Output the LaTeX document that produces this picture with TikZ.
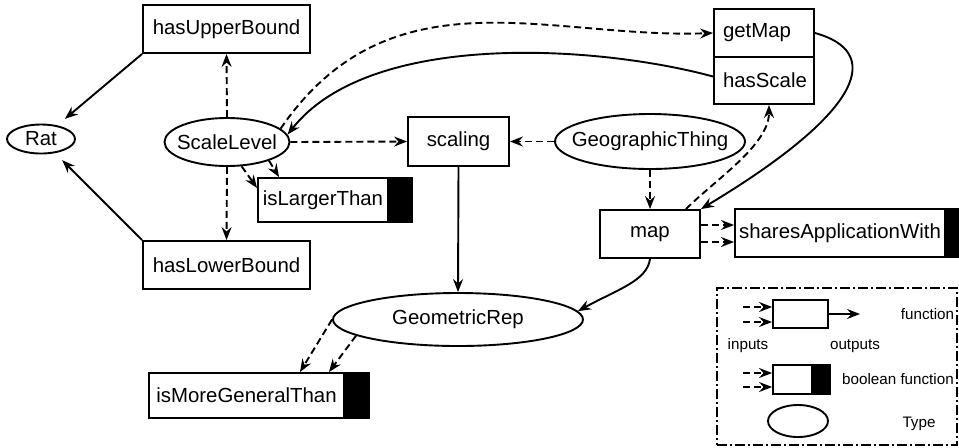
\documentclass[tikz,border=0pt]{standalone}
\usepackage{fontspec}
\setmainfont{Liberation Sans}
\usetikzlibrary{arrows.meta,shapes.geometric,calc}
\newcommand\zb[1]{\makebox[0pt]{#1}}
\begin{document}
\begin{tikzpicture}[x=0.5pt,y=-0.5pt,
  every node/.style={font=\fontsize{10.2pt}{12pt}\selectfont, inner sep=0pt},
  fn/.style={draw, rectangle, line width=0.95pt, fill=white},
  tp/.style={draw, ellipse, line width=0.95pt},
  blk/.style={draw, fill=black, rectangle, line width=0.95pt, anchor=west},
  arr/.style={line width=0.95pt, -{Stealth[length=6.5pt,width=5pt,inset=2.2pt]}},
  inp/.style={arr, dash pattern=on 3.5pt off 2pt},
  outp/.style={arr},
  legtext/.style={font=\fontsize{7.6pt}{9pt}\selectfont},
  legframe/.style={draw, line width=0.8pt, dash pattern=on 5pt off 1.5pt on 1pt off 1.5pt}
]
\useasboundingbox (0,0) rectangle (959,447);

% nodes
\node[fn, minimum width=83.5pt, minimum height=24pt] (hub) at (226.5,29) {hasUpperBound};
\node[fn, minimum width=83.5pt, minimum height=24pt] (hlb) at (226.5,265) {hasLowerBound};
\node[tp, minimum width=34pt, minimum height=14.5pt] (rat) at (41,139) {\zb{Rat}};
\node[tp, minimum width=62.5pt, minimum height=24pt] (sl) at (227,142) {\zb{ScaleLevel}};
\node[fn, minimum width=65pt, minimum height=22pt] (ilt) at (323,200) {isLargerThan};
\node[blk, minimum width=11pt, minimum height=22pt] (iltb) at (ilt.east) {};
\node[fn, minimum width=50.5pt, minimum height=24.5pt] (sc) at (458.5,141.5) {scaling};
\node[tp, minimum width=95pt, minimum height=27.5pt] (geo) at (650,141.5) {\zb{GeographicThing}};
\node[fn, minimum width=50pt, minimum height=24pt] (gm) at (764,33) {\makebox[41pt][l]{getMap}};
\node[fn, minimum width=50pt, minimum height=23.5pt] (hs) at (764,80.5) {\makebox[41pt][l]{hasScale}};
\node[fn, minimum width=50pt, minimum height=24pt] (map) at (650,234) {map};
\node[fn, minimum width=105pt, minimum height=24pt] (saw) at (840,233) {sharesApplicationWith};
\node[blk, minimum width=7pt, minimum height=24pt] (sawb) at (saw.east) {};
\node[tp, minimum width=125pt, minimum height=26.5pt] (geom) at (458,319.5) {\zb{GeometricRep}};
\node[fn, minimum width=97.5pt, minimum height=22.5pt] (img) at (246.5,395.5) {isMoreGeneralThan};
\node[blk, minimum width=11.5pt, minimum height=22.5pt] (imgb) at (img.east) {};

% connectors
\draw[outp, shorten >=5pt] (hub.south west) -- (rat);
\draw[outp, shorten >=5pt] (hlb.north west) -- (rat);
\draw[inp] (sl.north) -- (hub.south);
\draw[inp] (sl.south) -- (hlb.north);
\draw[inp] (sl.-59) -- ($(ilt.west)+(0,-12)$);
\draw[inp] (sl.-24) -- ($(ilt.north west)+(22,0)$);
\draw[inp] (sl.east) -- (sc.west);
\draw[inp] (geo.west) -- (sc.east);
\draw[inp] (geo.south) -- (map.north);
\draw[outp] (sc.south) -- (geom.north);
\coordinate (m1) at ($(map.east)+(0,-9)$);
\coordinate (m2) at ($(map.east)+(0,8)$);
\draw[inp] (m1) -- (m1 -| saw.west);
\draw[inp] (m2) -- (m2 -| saw.west);
\draw[outp] (map.south) .. controls +(-3,22) and +(40,-22) .. (geom.4);
\draw[outp] (gm.east) .. controls +(66,18) and +(168,-101) .. (map.north east);
\draw[inp] ($(map.north east)+(-15,0)$) .. controls +(30,-30) and +(0,40) .. ($(hs.south)+(5,0)$);
\draw[inp] (sl.14) .. controls +(110,-160) and +(-165,6) .. (gm.west);
\draw[outp] ([yshift=2pt]hs.west) .. controls +(-114,-31) and +(83,-105) .. (sl.7);
\draw[inp] (geom.west) -- ($(img.north east)+(-45,0)$);
\draw[inp] (geom.189) -- ($(img.north east)+(-16,0)$);

% legend
\node[legframe, minimum width=120pt, minimum height=78.5pt] (leg) at (837,366.5) {};
\node[fn, minimum width=27.5pt, minimum height=14pt] (lf) at (800.5,314) {};
\node[fn, minimum width=19.5pt, minimum height=14.5pt] (lb) at (792.5,379.5) {};
\node[blk, minimum width=8pt, minimum height=14.5pt] (lbb) at (lb.east) {};
\node[tp, minimum width=30pt, minimum height=16pt] (le) at (798,421) {};
\node[legtext] (tf) at (927.5,314) {function};
\node[legtext] (ti) at (748,346) {inputs};
\node[legtext] (to) at (855,346) {outputs};
\node[legtext] (tb) at (898,379) {boolean function};
\node[legtext] (tt) at (919,424) {Type};
\coordinate (li1) at (743,307);
\coordinate (li2) at (743,322);
\coordinate (lo) at (860,314);
\coordinate (lb1) at (743,373);
\coordinate (lb2) at (743,387);
\draw[inp] (li1) -- (li1 -| lf.west);
\draw[inp] (li2) -- (li2 -| lf.west);
\draw[outp] (lf.east) -- (lo);
\draw[inp] (lb1) -- (lb1 -| lb.west);
\draw[inp] (lb2) -- (lb2 -| lb.west);
\end{tikzpicture}
\end{document}
